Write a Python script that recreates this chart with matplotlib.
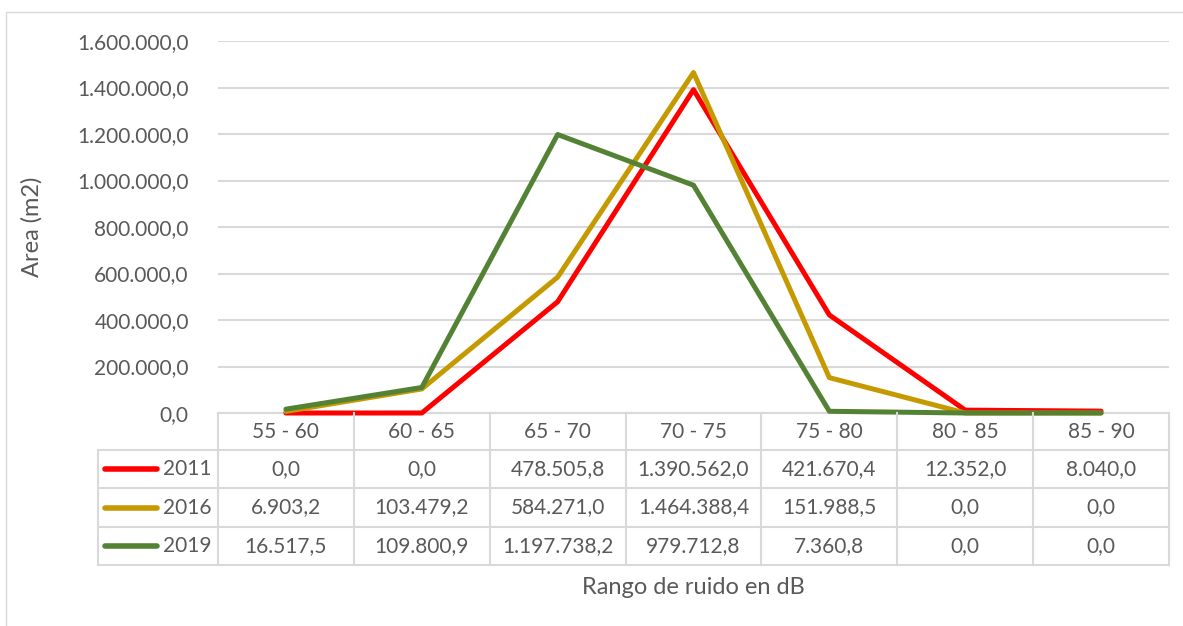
import matplotlib
matplotlib.use("Agg")
import matplotlib.pyplot as plt
from matplotlib.ticker import FuncFormatter
from matplotlib.patches import Rectangle
from matplotlib.lines import Line2D

categories = ["55 - 60", "60 - 65", "65 - 70", "70 - 75", "75 - 80", "80 - 85", "85 - 90"]
years = ["2011", "2016", "2019"]
s2011 = [0.0, 0.0, 478505.8, 1390562.0, 421670.4, 12352.0, 8040.0]
s2016 = [6903.2, 103479.2, 584271.0, 1464388.4, 151988.5, 0.0, 0.0]
s2019 = [16517.5, 109800.9, 1197738.2, 979712.8, 7360.8, 0.0, 0.0]
series = [s2011, s2016, s2019]
colors = ["#FF0000", "#C49A00", "#548235"]
yticks = [0, 200000, 400000, 600000, 800000, 1000000, 1200000, 1400000, 1600000]

W, H = 1183, 626
FONT = ["Lato", "DejaVu Sans"]
TXT = "#595959"
GRID = "#D9D9D9"
FS = 15.0
FT = 17.0

def fmt(v, pos=None):
    s = f"{v:,.1f}"
    return s.replace(",", "X").replace(".", ",").replace("X", ".")

fig = plt.figure(figsize=(W / 100, H / 100), dpi=100)
fig.patch.set_facecolor("white")

# outer chart border
fig.add_artist(Rectangle((6 / W, -0.1), 1.2, (H - 12) / H + 0.1, transform=fig.transFigure,
                         fill=False, edgecolor=GRID, lw=1.0))

x0, x1 = 218, 1169
ytop, ybot = 41, 413
ax = fig.add_axes([x0 / W, (H - ybot) / H, (x1 - x0) / W, (ybot - ytop) / H])
ax.set_xlim(-0.5, len(categories) - 0.5)
ax.set_ylim(yticks[0], yticks[-1])
ax.set_yticks(yticks)
ax.yaxis.set_major_formatter(FuncFormatter(fmt))
ax.set_xticks([])
for sp in ["top", "right", "left"]:
    ax.spines[sp].set_visible(False)
ax.spines["bottom"].set_color(GRID)
ax.spines["bottom"].set_linewidth(1.5)
ax.tick_params(axis="y", length=0, pad=21, labelcolor=TXT, labelsize=FS)
for lab in ax.get_yticklabels():
    lab.set_fontfamily(FONT)
ax.grid(axis="y", color=GRID, lw=1.5)
ax.set_axisbelow(True)

xs = list(range(len(categories)))
for vals, c in zip(series, colors):
    ax.plot(xs, vals, color=c, lw=3.6, solid_joinstyle="round", solid_capstyle="round",
            clip_on=False, zorder=3)

# data table
def fy(py):
    return (H - py) / H

def fx(px):
    return px / W

rows_y = [413, 450, 488, 527, 565]
col_x = [x0 + (x1 - x0) * i / len(categories) for i in range(len(categories) + 1)]
leg_x = 98
lw_t = 1.5
for yy in rows_y[1:]:
    fig.add_artist(Line2D([fx(leg_x), fx(x1)], [fy(yy), fy(yy)], color=GRID, lw=lw_t))
for cx in col_x:
    fig.add_artist(Line2D([fx(cx), fx(cx)], [fy(rows_y[0]), fy(rows_y[-1])], color=GRID, lw=lw_t))
fig.add_artist(Line2D([fx(leg_x), fx(leg_x)], [fy(rows_y[1]), fy(rows_y[-1])], color=GRID, lw=lw_t))

for i, cat in enumerate(categories):
    cx = (col_x[i] + col_x[i + 1]) / 2
    fig.text(fx(cx), fy((rows_y[0] + rows_y[1]) / 2), cat, ha="center", va="center",
             color=TXT, fontsize=FS, family=FONT)
for r, (yr, vals, c) in enumerate(zip(years, series, colors)):
    yc = (rows_y[r + 1] + rows_y[r + 2]) / 2
    fig.add_artist(Line2D([fx(105), fx(157)], [fy(yc), fy(yc)], color=c, lw=4.0,
                          solid_capstyle="round"))
    fig.text(fx(212), fy(yc), yr, ha="right", va="center", color=TXT, fontsize=FS, family=FONT)
    for i, v in enumerate(vals):
        cx = (col_x[i] + col_x[i + 1]) / 2
        fig.text(fx(cx), fy(yc), fmt(v), ha="center", va="center",
                 color=TXT, fontsize=FS, family=FONT)

fig.text(fx(693), fy(588), "Rango de ruido en dB", ha="center", va="center",
         color=TXT, fontsize=FT, family=FONT)
fig.text(fx(32), fy(227), "Area (m2)", ha="center", va="center", rotation=90,
         color=TXT, fontsize=FT, family=FONT)

fig.savefig("out.png", dpi=100, facecolor="white")
